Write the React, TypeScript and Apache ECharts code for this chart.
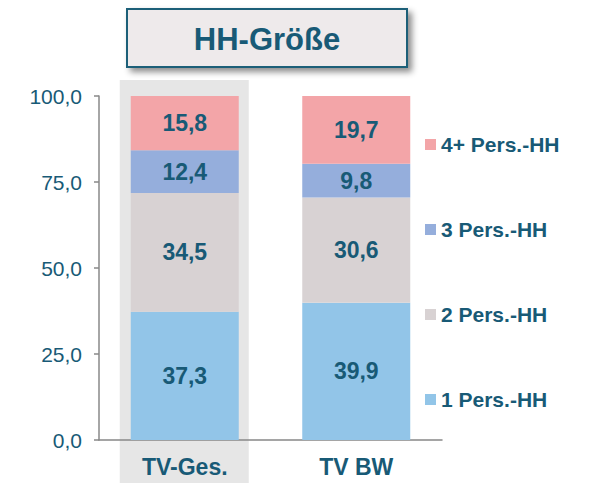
import React, { useEffect, useRef } from "react";
import * as echarts from "echarts";

const categories = ["TV-Ges.", "TV BW"];
const seriesNames = ["1 Pers.-HH", "2 Pers.-HH", "3 Pers.-HH", "4+ Pers.-HH"];
const pers1 = [37.3, 39.9];
const pers2 = [34.5, 30.6];
const pers3 = [12.4, 9.8];
const pers4 = [15.8, 19.7];
const yTicks = [0, 25, 50, 75, 100];
const colors = ["#92C5E8", "#D8D2D3", "#95AEDC", "#F3A5A8"];

const TEXT = "#185A76";
const FONT = "'Liberation Sans', Arial, sans-serif";

export default function App() {
  const ref = useRef<HTMLDivElement>(null);
  useEffect(() => {
    if (!ref.current) return;
    const chart = echarts.init(ref.current, undefined, { renderer: "svg" });
    const values = [pers1, pers2, pers3, pers4];
    const option: any = {
      animation: false,
      textStyle: { fontFamily: FONT },
      grid: { left: 99, right: 148, top: 96, bottom: 43, containLabel: false },
      xAxis: {
        type: "category",
        data: categories,
        axisLine: { lineStyle: { color: "#888888", width: 1.5 } },
        axisTick: { show: false },
        axisLabel: { color: TEXT, fontSize: 23, fontWeight: "bold", margin: 15, fontFamily: FONT },
      },
      yAxis: {
        type: "value",
        min: yTicks[0],
        max: yTicks[yTicks.length - 1],
        interval: 25,
        axisLine: { show: true, lineStyle: { color: "#888888", width: 1.5 } },
        axisTick: { show: true, length: 5, lineStyle: { color: "#888888", width: 1.5 } },
        splitLine: { show: false },
        axisLabel: {
          color: TEXT,
          fontSize: 21,
          margin: 17,
          fontFamily: FONT,
          formatter: (v: number) => v.toFixed(1).replace(".", ","),
        },
      },
      legend: {
        orient: "vertical",
        left: 425,
        top: 134,
        padding: 0,
        itemWidth: 11,
        itemHeight: 11,
        itemGap: 64,
        icon: "rect",
        data: [...seriesNames].reverse(),
        textStyle: { color: TEXT, fontSize: 21, fontWeight: "bold", fontFamily: FONT, lineHeight: 21 },
        selectedMode: false,
      },
      series: seriesNames.map((name, i) => ({
        name,
        type: "bar",
        stack: "total",
        barWidth: 108,
        data: values[i],
        itemStyle: { color: colors[i] },
        label: {
          show: true,
          position: "inside",
          color: TEXT,
          fontSize: 23,
          fontWeight: "bold",
          fontFamily: FONT,
          formatter: (p: any) => String(p.value.toFixed(1)).replace(".", ","),
        },
      })),
    };
    chart.setOption(option);
    const cx = chart.convertToPixel({ xAxisIndex: 0 }, categories[0]) as number;
    chart.setOption({
      graphic: [
        {
          type: "rect",
          z: -10,
          silent: true,
          shape: { x: cx - 65, y: 80, width: 129, height: 410 },
          style: { fill: "#E6E6E6" },
        },
        {
          type: "rect",
          z: 10,
          shape: { x: 127, y: 9, width: 280, height: 58 },
          style: {
            fill: "#EEEAEB",
            stroke: "#1F5F78",
            lineWidth: 2,
            shadowBlur: 6,
            shadowOffsetX: 4,
            shadowOffsetY: 4,
            shadowColor: "rgba(0,0,0,0.45)",
          },
        },
        {
          type: "text",
          z: 11,
          x: 267,
          y: 39,
          style: {
            text: "HH-Größe",
            fill: TEXT,
            font: `bold 31px ${FONT}`,
            align: "center",
            verticalAlign: "middle",
          },
        },
      ],
    });
    return () => chart.dispose();
  }, []);
  return <div ref={ref} style={{ width: 590, height: 483, position: "absolute", left: 0, top: 0 }} />;
}
